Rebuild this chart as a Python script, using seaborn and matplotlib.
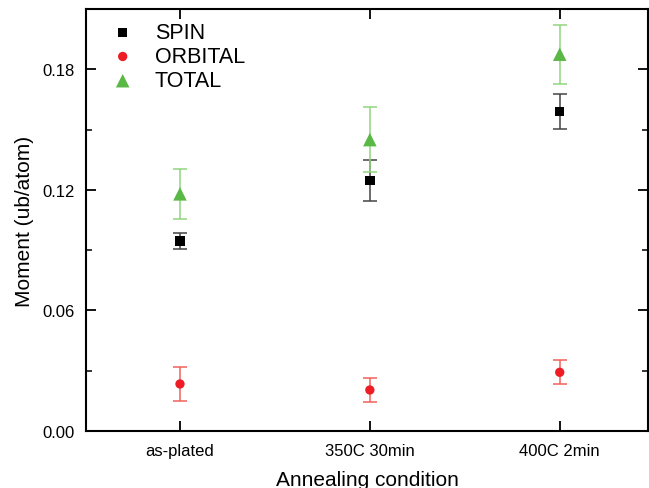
import pandas as pd
import seaborn as sns
import matplotlib.pyplot as plt

conditions = ['as-plated', '350C 30min', '400C 2min']
spin = [0.0946, 0.1245, 0.1590]
spin_err = [0.0040, 0.0103, 0.0087]
orbital = [0.0234, 0.0204, 0.0292]
orbital_err = [0.0085, 0.0060, 0.0060]
total = [0.1180, 0.1450, 0.1875]
total_err = [0.0125, 0.0160, 0.0147]

series = ['SPIN', 'ORBITAL', 'TOTAL']
colors = {'SPIN': '#000000', 'ORBITAL': '#ee1c24', 'TOTAL': '#5ab946'}
err_colors = {'SPIN': '#444444', 'ORBITAL': '#f2605a', 'TOTAL': '#8fd47e'}
markers = {'SPIN': 's', 'ORBITAL': 'o', 'TOTAL': '^'}
sizes = {'SPIN': 45, 'ORBITAL': 45, 'TOTAL': 95}

df = pd.DataFrame({
    'condition': conditions * 3,
    'moment': spin + orbital + total,
    'err': spin_err + orbital_err + total_err,
    'series': [s for s in series for _ in conditions],
})

sns.set_theme(style="ticks")
plt.rcParams['font.family'] = ['Liberation Sans', 'DejaVu Sans']
plt.rcParams['text.color'] = 'black'
plt.rcParams['axes.labelcolor'] = 'black'

fig = plt.figure(figsize=(6.49, 4.89), dpi=100)
ax = fig.add_axes([0.1325, 0.1166, 0.866, 0.863])

pos = {c: i for i, c in enumerate(conditions)}
for s in series:
    d = df[df['series'] == s]
    ax.errorbar(d['condition'].map(pos), d['moment'], yerr=d['err'], fmt='none',
                ecolor=err_colors[s], elinewidth=1.1, capsize=5, capthick=1.1, zorder=2)
    sns.scatterplot(data=d, x=d['condition'].map(pos), y='moment', ax=ax,
                    color=colors[s], marker=markers[s], s=sizes[s],
                    edgecolor='none', label=s, zorder=3)

ax.set_xlim(-0.495, 2.465)
ax.set_ylim(0, 0.21)
ax.set_xticks(range(len(conditions)))
ax.set_xticklabels(conditions, fontsize=12)
ax.set_yticks([0.0, 0.06, 0.12, 0.18])
ax.set_yticklabels(['0.00', '0.06', '0.12', '0.18'], fontsize=12)
ax.set_yticks([0.03, 0.09, 0.15], minor=True)
ax.tick_params(direction='in', top=True, right=True, length=7, width=1.3,
               colors='black', labelcolor='black')
ax.tick_params(which='minor', direction='in', right=True, length=4, width=1.3)
ax.tick_params(axis='x', pad=9)
ax.tick_params(axis='y', pad=8)
for sp in ax.spines.values():
    sp.set_linewidth(1.5)
    sp.set_color('black')

ax.set_xlabel('Annealing condition', fontsize=15, labelpad=8)
ax.set_ylabel('Moment (ub/atom)', fontsize=15, labelpad=6)

ax.legend(loc='upper left', frameon=False, fontsize=15.5, handletextpad=0.5,
          borderaxespad=0.2, bbox_to_anchor=(0.004, 1.0), labelspacing=0.15)

fig.savefig('out.png', dpi=100)
